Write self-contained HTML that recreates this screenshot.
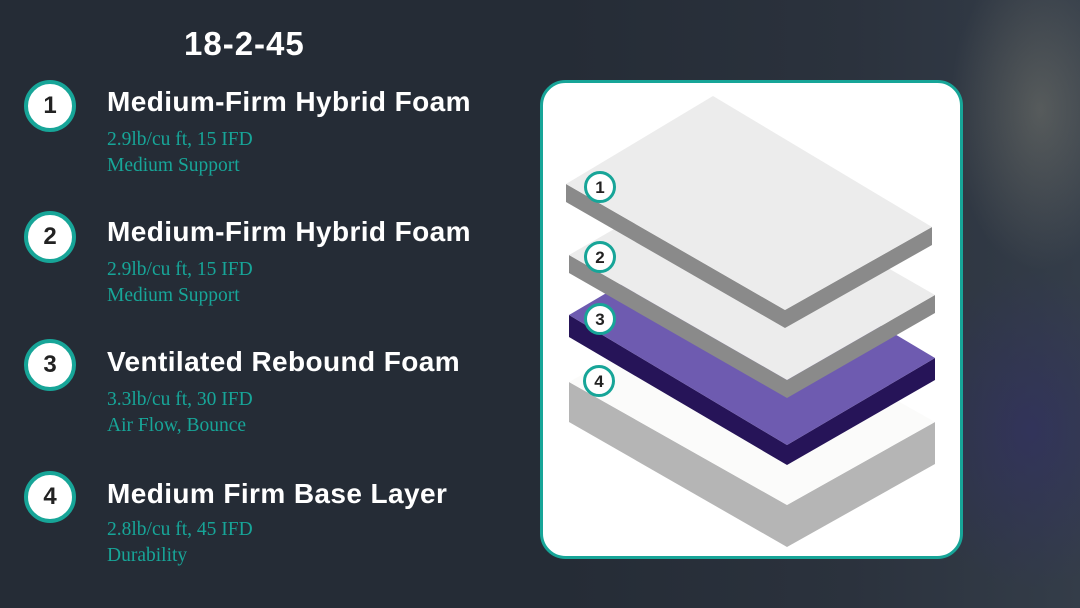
<!DOCTYPE html>
<html><head><meta charset="utf-8"><style>
html,body{margin:0;padding:0}
body{width:1080px;height:608px;overflow:hidden;position:relative;background:#252c36;font-family:"Liberation Sans",sans-serif}
.bg{position:absolute;left:0;top:0;width:1080px;height:608px;background:
radial-gradient(ellipse 90px 160px at 1040px 110px,rgba(170,165,140,.3),transparent),
radial-gradient(ellipse 120px 160px at 1030px 430px,rgba(50,45,110,.5),transparent),
linear-gradient(90deg,#252c36 0,#252c36 560px,#2b323d 850px,#343d49 1080px)}
.t{position:absolute;color:#fff;font-weight:bold;letter-spacing:0.4px}
.c{position:absolute;width:44px;height:44px;border:4px solid #17a598;border-radius:50%;background:#fff;color:#222;font-weight:bold;font-size:24px;text-align:center;line-height:44px}
.s{position:absolute;color:#17a598;font-family:"Liberation Serif",serif;font-size:19.5px;line-height:26px}
</style></head><body>
<div class="bg"></div>
<div class="t" style="left:184px;top:25px;font-size:33px;letter-spacing:1px">18-2-45</div>

<div class="c" style="left:24px;top:80px">1</div>
<div class="t" style="left:107px;top:86px;font-size:28px">Medium-Firm Hybrid Foam</div>
<div class="s" style="left:107px;top:127px">2.9lb/cu ft, 15 IFD<br>Medium Support</div>

<div class="c" style="left:24px;top:211px">2</div>
<div class="t" style="left:107px;top:216px;font-size:28px">Medium-Firm Hybrid Foam</div>
<div class="s" style="left:107px;top:257px">2.9lb/cu ft, 15 IFD<br>Medium Support</div>

<div class="c" style="left:24px;top:339px">3</div>
<div class="t" style="left:107px;top:346px;font-size:28px">Ventilated Rebound Foam</div>
<div class="s" style="left:107px;top:387px">3.3lb/cu ft, 30 IFD<br>Air Flow, Bounce</div>

<div class="c" style="left:24px;top:471px">4</div>
<div class="t" style="left:107px;top:478px;font-size:28px">Medium Firm Base Layer</div>
<div class="s" style="left:107px;top:517px">2.8lb/cu ft, 45 IFD<br>Durability</div>

<svg style="position:absolute;left:0;top:0" width="1080" height="608">
<rect x="541.5" y="81.5" width="420" height="476" rx="24" fill="#fff" stroke="#17a598" stroke-width="3"/>
<polygon points="569,382 787,505 787,547 569,422" fill="#b5b5b5"/>
<polygon points="787,505 935,422 935,464 787,547" fill="#b5b5b5"/>
<polygon points="569,382 717,299 935,422 787,505" fill="#fbfbfa"/>
<polygon points="569,315 787,445 787,465 569,337" fill="#261458"/>
<polygon points="787,445 935,358 935,380 787,465" fill="#261458"/>
<polygon points="569,315 717,228 935,358 787,445" fill="#6e5bb0"/>
<polygon points="569,255 787,380 787,398 569,273" fill="#8a8a8a"/>
<polygon points="787,380 935,295 935,313 787,398" fill="#8a8a8a"/>
<polygon points="569,255 717,170 935,295 787,380" fill="#ececec"/>
<polygon points="566,184 785,310 785,328 566,202" fill="#8a8a8a"/>
<polygon points="785,310 932,227 932,245 785,328" fill="#8a8a8a"/>
<polygon points="566,184 713,96 932,227 785,310" fill="#ececec"/>
<g font-family="Liberation Sans,sans-serif" font-weight="bold" font-size="17" text-anchor="middle" fill="#222">
<circle cx="600" cy="187" r="14.5" fill="#fff" stroke="#17a598" stroke-width="3"/><text x="600" y="193">1</text>
<circle cx="600" cy="257" r="14.5" fill="#fff" stroke="#17a598" stroke-width="3"/><text x="600" y="263">2</text>
<circle cx="600" cy="319" r="14.5" fill="#fff" stroke="#17a598" stroke-width="3"/><text x="600" y="325">3</text>
<circle cx="599" cy="381" r="14.5" fill="#fff" stroke="#17a598" stroke-width="3"/><text x="599" y="387">4</text>
</g>
</svg>
</body></html>
